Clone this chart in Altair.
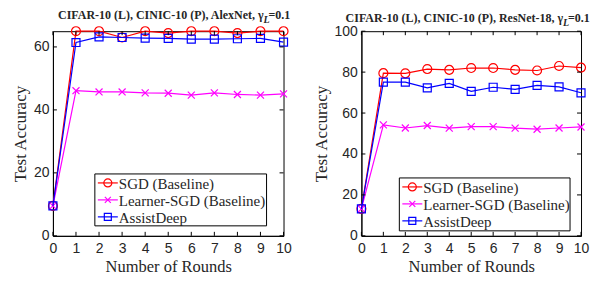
import altair as alt
import pandas as pd

rounds = list(range(11))
series_names = ["SGD (Baseline)", "Learner-SGD (Baseline)", "AssistDeep"]
series_colors = ["#ff0000", "#ff00ff", "#0000ff"]

# Left panel: AlexNet
sgd_l = [9.5, 65.0, 65.0, 63.0, 65.0, 64.4, 65.0, 65.0, 64.4, 65.0, 65.0]
learner_l = [9.5, 46.1, 45.7, 45.7, 45.4, 45.3, 44.7, 45.4, 44.9, 44.7, 45.1]
assist_l = [9.5, 61.4, 63.2, 63.0, 62.8, 62.7, 62.5, 62.5, 62.6, 62.7, 61.5]

# Right panel: ResNet-18
sgd_r = [13.2, 79.5, 79.4, 81.5, 81.1, 82.0, 82.0, 81.1, 80.8, 83.0, 82.2]
learner_r = [13.2, 54.2, 52.7, 53.9, 52.6, 53.4, 53.4, 52.6, 52.1, 52.7, 53.2]
assist_r = [13.2, 75.1, 75.1, 72.3, 74.5, 70.6, 72.6, 71.6, 73.5, 72.8, 69.9]

x_ticks = list(range(11))
y_ticks_l = [0, 20, 40, 60]
y_ticks_r = [0, 20, 40, 60, 80, 100]

title_l = "CIFAR-10 (L), CINIC-10 (P), AlexNet, γ"
title_r = "CIFAR-10 (L), CINIC-10 (P), ResNet-18, γ"

SERIF = "Liberation Serif"
SANS = "Liberation Sans"
TXT = "#262626"

plot_shapes = ["circle", "M-1,-1L1,1M-1,1L1,-1", "square"]
plot_sizes = [80, 49, 64]
legend_sizes = [64, 36, 49]
legend_rows = [9, 26, 43]


def panel(sgd, learner, assist, ymax, yticks, title, W, H, lx, ly, lw, lh, tx, ty):
    rows = []
    for name, vals in zip(series_names, [sgd, learner, assist]):
        for r, v in zip(rounds, vals):
            rows.append({"round": r, "acc": v, "series": name})
    df = pd.DataFrame(rows)

    xs = alt.Scale(domain=[0, 10], nice=False, zero=False)
    ys = alt.Scale(domain=[0, ymax], nice=False)
    xaxis = alt.Axis(
        values=x_ticks, title="Number of Rounds", ticks=False, grid=False,
        labelOverlap=False, labelFlush=False,
        labelFont=SANS, labelFontSize=14, labelColor=TXT, labelPadding=6,
        titleFont=SERIF, titleFontSize=16.5, titleFontWeight="normal",
        titleColor=TXT, titlePadding=3, domainColor="black")
    yaxis = alt.Axis(
        values=yticks, title="Test Accuracy", ticks=False, grid=False,
        labelOverlap=False, labelFlush=False,
        labelFont=SANS, labelFontSize=14, labelColor=TXT, labelPadding=4,
        titleFont=SERIF, titleFontSize=17, titleFontWeight="normal",
        titleColor=TXT, titlePadding=4, domainColor="black")
    xenc = alt.X("round:Q", scale=xs, axis=xaxis)
    yenc = alt.Y("acc:Q", scale=ys, axis=yaxis)

    base = alt.Chart(df)
    layers = []
    for name, col, shp, sz in zip(series_names, series_colors, plot_shapes, plot_sizes):
        f = base.transform_filter(alt.datum.series == name)
        layers.append(f.mark_line(color=col, strokeWidth=1.2).encode(x=xenc, y=yenc))
        layers.append(f.mark_point(shape=shp, color=col, size=sz, filled=False,
                                   strokeWidth=1.2, opacity=1).encode(x=xenc, y=yenc))

    # inward ticks
    xt = alt.Chart(pd.DataFrame({"round": x_ticks}))
    yt = alt.Chart(pd.DataFrame({"acc": yticks}))
    layers.append(xt.mark_rule(color="black", strokeWidth=1).encode(
        x=xenc, y=alt.value(H), y2=alt.value(H - 4)))
    layers.append(xt.mark_rule(color="black", strokeWidth=1).encode(
        x=xenc, y=alt.value(0), y2=alt.value(4)))
    layers.append(yt.mark_rule(color="black", strokeWidth=1).encode(
        y=yenc, x=alt.value(0), x2=alt.value(4)))
    layers.append(yt.mark_rule(color="black", strokeWidth=1).encode(
        y=yenc, x=alt.value(W), x2=alt.value(W - 4)))

    # legend box (drawn by hand so fonts and symbols match)
    one = alt.Chart(pd.DataFrame({"k": [0]}))
    layers.append(one.mark_rect(fill="white", stroke="black", strokeWidth=1).encode(
        x=alt.value(lx), x2=alt.value(lx + lw), y=alt.value(ly), y2=alt.value(ly + lh)))
    for name, col, shp, sz, ry in zip(series_names, series_colors, plot_shapes,
                                       legend_sizes, legend_rows):
        cy = ly + ry
        ld = alt.Chart(pd.DataFrame({"name": [name]}))
        layers.append(ld.mark_rule(color=col, strokeWidth=1.2).encode(
            x=alt.value(lx + 3), x2=alt.value(lx + 23), y=alt.value(cy)))
        layers.append(ld.mark_point(shape=shp, color=col, size=sz, filled=False,
                                    strokeWidth=1.2, opacity=1).encode(
            x=alt.value(lx + 13), y=alt.value(cy)))
        layers.append(ld.mark_text(align="left", baseline="middle", font=SERIF,
                                   fontSize=15, color=TXT).encode(
            x=alt.value(lx + 24), y=alt.value(cy + 1), text="name:N"))

    # title with subscript
    tdf = alt.Chart(pd.DataFrame({"t": [title], "s": ["L"], "e": ["=0.1"]}))
    layers.append(tdf.mark_text(align="right", baseline="alphabetic", font=SERIF,
                                fontWeight="bold", fontSize=12, color=TXT).encode(
        x=alt.value(tx), y=alt.value(ty), text="t:N"))
    layers.append(tdf.mark_text(align="left", baseline="alphabetic", font=SERIF,
                                fontStyle="italic", fontWeight="bold", fontSize=10, color=TXT).encode(
        x=alt.value(tx), y=alt.value(ty + 4), text="s:N"))
    layers.append(tdf.mark_text(align="left", baseline="alphabetic", font=SERIF,
                                fontWeight="bold", fontSize=12, color=TXT).encode(
        x=alt.value(tx + 5), y=alt.value(ty), text="e:N"))

    return alt.layer(*layers).properties(width=W, height=H)


left = panel(sgd_l, learner_l, assist_l, 65, y_ticks_l, title_l, 231, 205,
             42, 143, 172, 52, 211, -12)
right = panel(sgd_r, learner_r, assist_r, 100, y_ticks_r, title_r, 220, 205,
              38, 147, 171, 53, 202, -9)

chart = alt.hconcat(left, right, spacing=19).properties(
    padding={"left": 2, "top": 0, "right": 0, "bottom": 0}
).configure(font=SERIF).configure_view(
    stroke="black", strokeWidth=1
)

chart.save("out.html", embed_options={"renderer": "svg", "actions": False})
